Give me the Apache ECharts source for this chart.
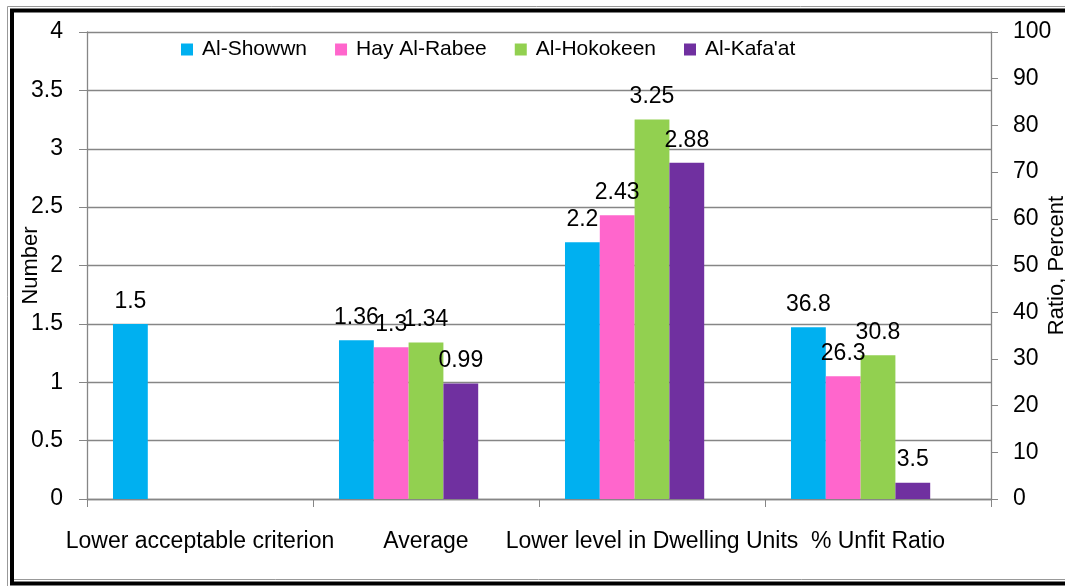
<!DOCTYPE html>
<html>
<head>
<meta charset="utf-8">
<title>Dwelling units chart</title>
<script src="https://cdn.jsdelivr.net/npm/echarts@6/dist/echarts.min.js"></script>
<style>
    html, body {
        margin: 0;
        padding: 0;
        background: #fff;
    }
    #chart {
        width: 1065px;
        height: 586px;
    }
</style>
</head>
<body>
<div id="chart"></div>
<script>
// categories on the x axis
const categories = ['Lower acceptable criterion', 'Average', 'Lower level in Dwelling Units', '% Unfit Ratio']
const seriesNames = ['Al-Showwn', 'Hay Al-Rabee', 'Al-Hokokeen', "Al-Kafa'at"]
const seriesColors = ['#00B0F0', '#FF66CC', '#92D050', '#7030A0']

// values read on the left axis (Number), last category is empty here
const showwnNumber = [1.5, 1.36, 2.2, null]
const rabeeNumber = [null, 1.3, 2.43, null]
const hokokeenNumber = [null, 1.34, 3.25, null]
const kafaatNumber = [null, 0.99, 2.88, null]

// values read on the right axis (Ratio, Percent), only last category
const showwnPercent = [null, null, null, 36.8]
const rabeePercent = [null, null, null, 26.3]
const hokokeenPercent = [null, null, null, 30.8]
const kafaatPercent = [null, null, null, 3.5]

const numberData = [showwnNumber, rabeeNumber, hokokeenNumber, kafaatNumber]
const percentData = [showwnPercent, rabeePercent, hokokeenPercent, kafaatPercent]

const FONT = 'Liberation Sans'
const GRID_COLOR = '#868686'

const chart = echarts.init(document.getElementById('chart'))

// bar series helper
const makeBar = (name, data, color, axisIndex) => ({
    name: name,
    type: 'bar',
    xAxisIndex: axisIndex,
    yAxisIndex: axisIndex,
    data: data,
    barGap: '0%',
    barCategoryGap: '23%',
    itemStyle: { color: color },
    label: {
        show: true,
        position: 'top',
        distance: 11,
        color: '#000',
        fontFamily: FONT,
        fontSize: 23
    }
})

// empty 5th slot, the original chart leaves room for one more bar
const placeholder = (axisIndex) => ({
    type: 'bar',
    name: 'placeholder',
    xAxisIndex: axisIndex,
    yAxisIndex: axisIndex,
    data: categories.map(() => null),
    barGap: '0%',
    barCategoryGap: '23%'
})

const series = []
seriesNames.forEach((n, i) => series.push(makeBar(n, numberData[i], seriesColors[i], 0)))
series.push(placeholder(0))
seriesNames.forEach((n, i) => series.push(makeBar(n, percentData[i], seriesColors[i], 1)))
series.push(placeholder(1))

const option = {
    backgroundColor: '#fff',
    animation: false,
    grid: {
        left: 87,
        right: 74,
        top: 32,
        bottom: 87,
        containLabel: false,
        outerBoundsMode: 'none'
    },
    legend: {
        data: seriesNames,
        left: 176,
        top: 34,
        itemWidth: 12,
        itemHeight: 12,
        itemGap: 28,
        icon: 'rect',
        textStyle: {
            fontFamily: FONT,
            fontSize: 21,
            color: '#000',
            padding: [0, 0, 0, 4]
        }
    },
    xAxis: [
        {
            type: 'category',
            data: categories,
            axisLine: { lineStyle: { color: GRID_COLOR, width: 1.3 } },
            axisTick: { show: true, length: 8, lineStyle: { color: GRID_COLOR } },
            axisLabel: {
                color: '#000',
                fontFamily: FONT,
                fontSize: 23,
                margin: 31,
                interval: 0
            }
        },
        {
            type: 'category',
            data: categories,
            show: false
        }
    ],
    yAxis: [
        {
            type: 'value',
            name: 'Number',
            nameLocation: 'middle',
            nameRotate: 90,
            nameGap: 45,
            nameMoveOverlap: false,
            nameTextStyle: { color: '#000', fontFamily: FONT, fontSize: 22 },
            min: 0,
            max: 4,
            interval: 0.5,
            axisLine: { show: true, lineStyle: { color: GRID_COLOR, width: 1.3 } },
            axisTick: { show: true, length: 8, lineStyle: { color: GRID_COLOR } },
            axisLabel: { color: '#000', fontFamily: FONT, fontSize: 23, margin: 24 },
            splitLine: { lineStyle: { color: GRID_COLOR, width: 1.3 } }
        },
        {
            type: 'value',
            name: 'Ratio, Percent',
            nameLocation: 'middle',
            nameRotate: 90,
            nameGap: 55,
            nameMoveOverlap: false,
            nameTextStyle: { color: '#000', fontFamily: FONT, fontSize: 22 },
            min: 0,
            max: 100,
            interval: 10,
            position: 'right',
            axisLine: { show: true, lineStyle: { color: GRID_COLOR, width: 1.3 } },
            axisTick: { show: true, length: 7, lineStyle: { color: GRID_COLOR } },
            axisLabel: { color: '#000', fontFamily: FONT, fontSize: 23, margin: 22 },
            splitLine: { show: false }
        }
    ],
    // double frame around the picture
    graphic: [
        {
            type: 'polyline',
            shape: { points: [[7.5, 586], [7.5, 6.5], [1065, 6.5]] },
            style: { stroke: '#999', fill: null, lineWidth: 1 }
        },
        {
            type: 'line',
            shape: { x1: 12, y1: 579.5, x2: 1065, y2: 579.5 },
            style: { stroke: '#999', lineWidth: 1 }
        },
        {
            type: 'rect',
            shape: { x: 12, y: 10.5, width: 1070, height: 573 },
            style: { stroke: '#000', fill: null, lineWidth: 4 }
        }
    ],
    series: series
}

chart.setOption(option)
</script>
</body>
</html>
